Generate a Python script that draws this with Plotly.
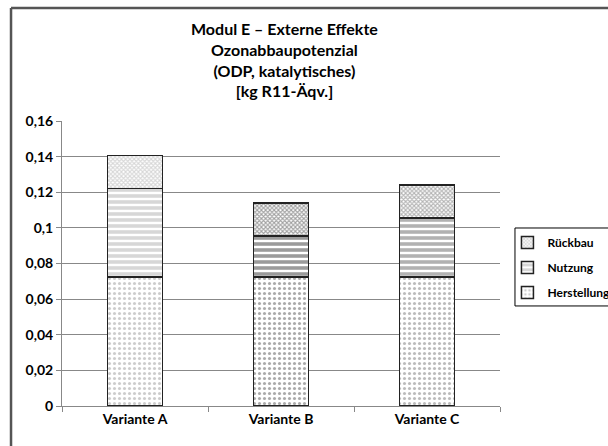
import plotly.graph_objects as go

categories = ["Variante A", "Variante B", "Variante C"]
herstellung = [0.0725, 0.0725, 0.0725]
nutzung = [0.0495, 0.023, 0.033]
rueckbau = [0.0185, 0.0185, 0.0185]

title_lines = ["Modul E – Externe Effekte", "Ozonabbaupotenzial", "(ODP, katalytisches)", "[kg R11-Äqv.]"]
y_ticks = [0, 0.02, 0.04, 0.06, 0.08, 0.1, 0.12, 0.14, 0.16]

FONT = "Lato"
bw = 0.38
line = dict(color="#222222", width=1.5)

fig = go.Figure()
fig.add_trace(go.Bar(
    name="Herstellung", x=categories, y=herstellung, width=bw, legendgroup="h", legendrank=3,
    marker=dict(color="white", line=line,
                pattern=dict(shape=".", fgcolor=["#9a9a9a", "#555555", "#777777"], bgcolor="white", size=5, solidity=0.3)),
))
fig.add_trace(go.Bar(
    name="Nutzung", x=categories, y=nutzung, width=bw, legendgroup="n", legendrank=2,
    marker=dict(color="white", line=line,
                pattern=dict(shape="-", fgcolor=["#b0b0b0", "#383838", "#666666"], bgcolor="white", size=6, solidity=0.6)),
))
fig.add_trace(go.Bar(
    name="Rückbau", x=categories, y=rueckbau, width=bw, legendgroup="r", legendrank=1,
    marker=dict(color="white", line=line,
                pattern=dict(shape="x", fgcolor=["#b0b0b0", "#444444", "#6a6a6a"], bgcolor="white", size=3, solidity=0.6)),
))

fig.update_layout(
    width=608, height=446,
    margin=dict(l=62, r=108, t=121, b=40, autoexpand=False),
    paper_bgcolor="white", plot_bgcolor="white",
    barmode="stack",
    separators=",.",
    font=dict(family=FONT, size=13, color="black"),
    showlegend=True,
    legend=dict(x=1.017, y=0.625, xanchor="left", yanchor="top", traceorder="grouped",
                borderwidth=0, bgcolor="rgba(0,0,0,0)", tracegroupgap=6,
                font=dict(family=FONT, size=12, color="black", weight="bold"),
                itemwidth=30),
    xaxis=dict(showline=True, linecolor="#888888", linewidth=1, ticks="outside", ticklen=5,
               tickcolor="#888888", tickson="boundaries", showgrid=False,
               tickfont=dict(family=FONT, size=14, weight="bold"), fixedrange=True),
    yaxis=dict(range=[0, 0.16], tickvals=y_ticks, showline=True, linecolor="#888888", linewidth=1,
               ticks="outside", ticklen=5, tickcolor="#888888", showgrid=True, gridcolor="#888888",
               gridwidth=1, zeroline=False, tickfont=dict(family=FONT, size=14, weight="bold")),
    annotations=[
        dict(text="<br>".join(title_lines), xref="paper", yref="paper", x=0.509, y=1.216,
             xanchor="center", yanchor="middle", showarrow=False, align="center",
             font=dict(family=FONT, size=16, color="black", weight="bold")),
    ],
    shapes=[
        dict(type="line", xref="paper", yref="paper", x0=-0.1164, x1=1.4, y0=1.3965, y1=1.3965,
             line=dict(color="#555555", width=2.5)),
        dict(type="line", xref="paper", yref="paper", x0=-0.1164, x1=-0.1164, y0=1.3965, y1=-0.3,
             line=dict(color="#555555", width=2.5)),
        dict(type="rect", xref="paper", yref="paper", x0=1.0342, x1=1.4, y0=0.351, y1=0.6246,
             line=dict(color="black", width=1), fillcolor="rgba(0,0,0,0)"),
    ],
)

fig.write_html("out.html")
